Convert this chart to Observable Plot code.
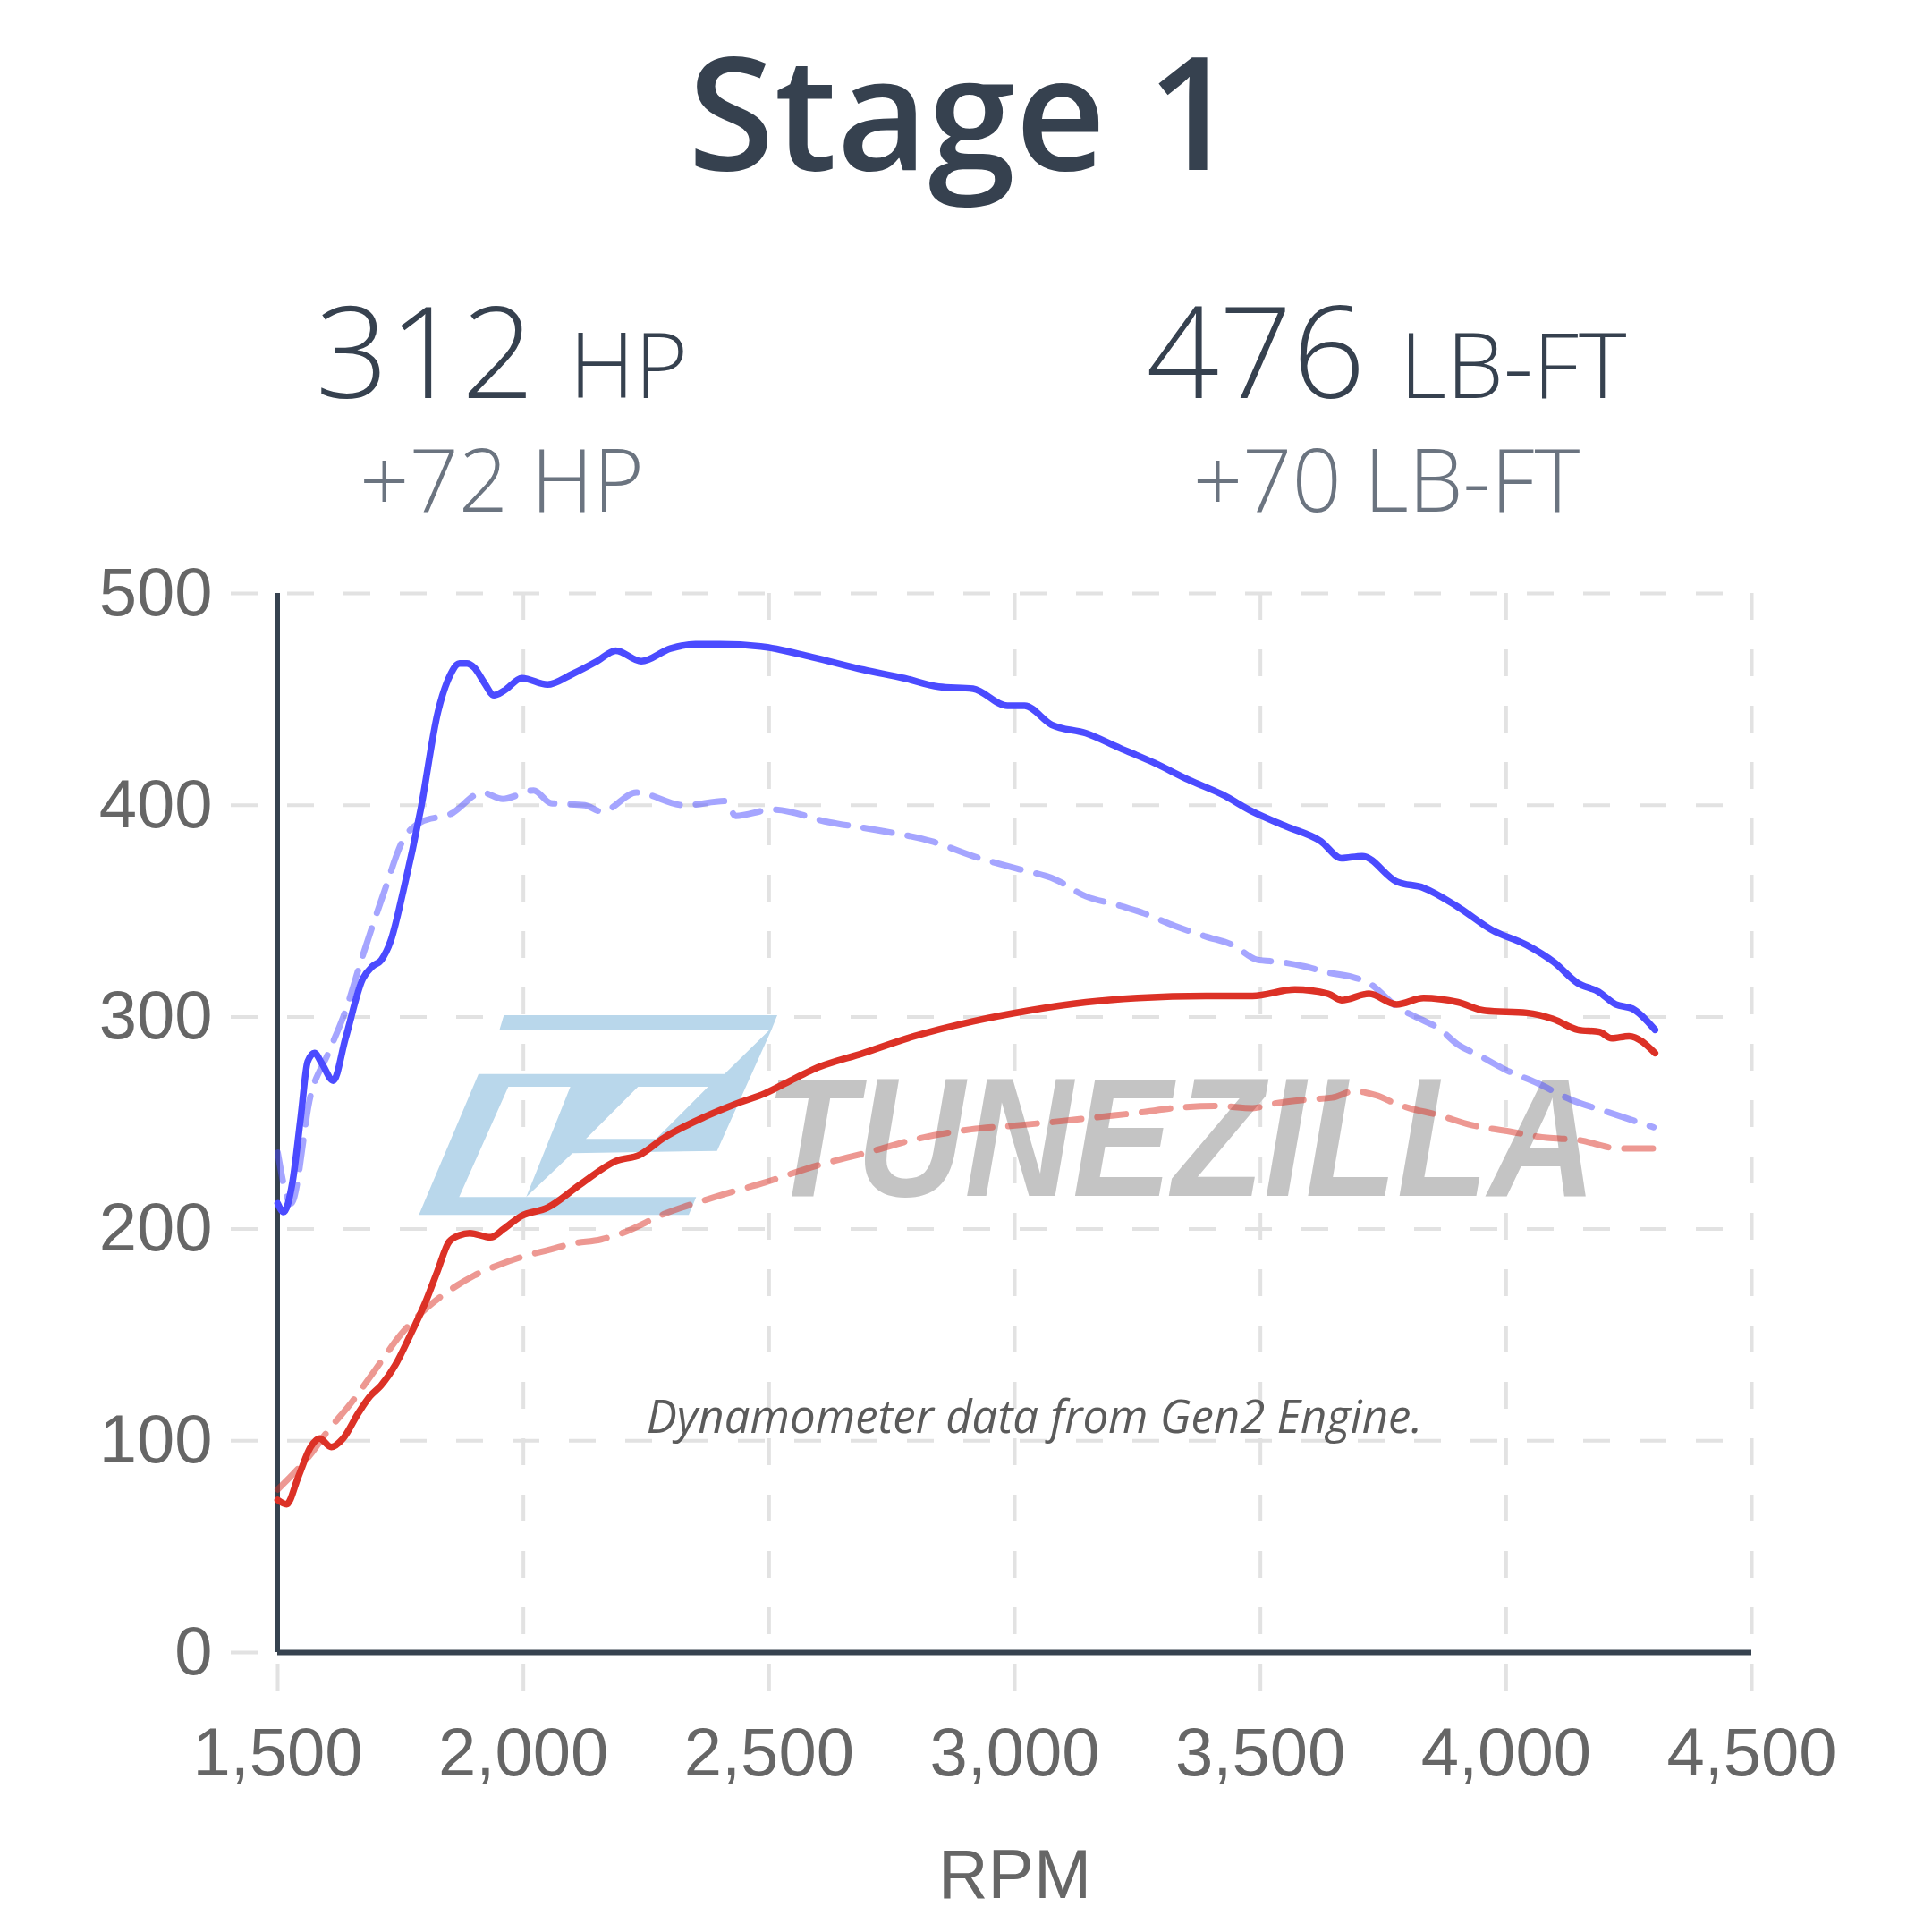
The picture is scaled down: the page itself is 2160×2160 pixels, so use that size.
<!DOCTYPE html>
<html><head><meta charset="utf-8">
<script src="https://cdn.jsdelivr.net/npm/d3@7"></script>
<script src="https://cdn.jsdelivr.net/npm/@observablehq/plot@0.6"></script>
<style>
html,body{margin:0;padding:0;background:#fff;}
#wrap{width:2160px;}
#wrap svg{display:block;}
</style></head><body><div id="wrap"></div>
<script>
// ---- data ----
const title = "Stage 1";
const hpPeak = "312", hpUnit = "HP", hpGain = "+72 HP";
const tqPeak = "476", tqUnit = "LB-FT", tqGain = "+70 LB-FT";
const caption = "Dynamometer data from Gen2 Engine.";
const xLabel = "RPM";
const xTicks = [1500, 2000, 2500, 3000, 3500, 4000, 4500];
const yTicks = [0, 100, 200, 300, 400, 500];

// Stage 1 torque (solid blue)
const stage1TqRpm = [1500,1512,1530,1547,1561,1575,1590,1613,1638,1673,1693,1711,1730,1756,1791,1826,1850,1870,1885,1900,1920,1940,1960,1997,2049,2100,2150,2188,2240,2299,2350,2400,2483,2587,2692,2775,2845,2915,2985,3020,3075,3145,3214,3284,3354,3423,3484,3553,3623,3665,3707,3777,3832,3902,3972,4042,4097,4146,4188,4223,4257,4303];
const stage1Tq    = [212,208,222,253,279,283,278,270,290,318,324,327,336,360,398,444,461,467,467,465,458,452,454,460,457,462,468,473,468,474,476,476,475,470,464,460,456,455,447,447,438,434,427,420,412,405,397,390,383,375,376,364,361,352,341,334,326,316,312,306,304,294];

// Stock torque (dashed blue)
const stockTqRpm = [1500,1527,1567,1603,1638,1673,1715,1756,1791,1853,1916,1958,2021,2056,2125,2160,2230,2328,2411,2432,2508,2622,2727,2831,2915,3006,3082,3145,3208,3263,3326,3389,3444,3494,3540,3588,3638,3686,3721,3777,3826,3861,3902,3944,4000,4062,4132,4209,4300];
const stockTq    = [236,212,263,283,303,329,358,384,392,396,406,403,407,401,400,397,406,400,402,395,398,392,388,383,376,370,365,357,353,349,343,338,334,327,326,324,321,319,316,305,299,295,287,282,275,269,261,255,248];

// Stage 1 horsepower (solid red)
const stage1HpRpm = [1500,1518,1542,1567,1585,1609,1633,1664,1688,1710,1740,1770,1800,1825,1849,1870,1891,1933,1960,1995,2049,2116,2188,2237,2286,2370,2432,2492,2552,2587,2692,2796,2915,3027,3145,3250,3389,3484,3570,3638,3665,3721,3777,3832,3902,3958,4042,4097,4146,4190,4215,4250,4303];
const stage1Hp    = [72,70,83,97,101,97,101,113,121,126,136,150,165,180,194,197,198,196,200,206,210,221,232,235,243,253,259,264,271,275,283,291,298,303,307,309,310,310,313,311,308,311,306,309,307,303,302,299,294,293,290,291,283];

// Stock horsepower (dashed red)
const stockHpRpm = [1500,1530,1565,1600,1650,1700,1750,1800,1850,1900,1950,2000,2050,2100,2158,2201,2286,2389,2492,2599,2699,2811,2911,3011,3100,3179,3257,3323,3412,3484,3524,3591,3646,3691,3736,3777,3803,3858,3930,4007,4083,4146,4229,4300];
const stockHp    = [77,84,93,104,118,134,150,162,171,178,183,187,190,193,195,198,207,215,222,230,236,243,247,249,251,253,255,257,258,257,259,261,262,265,263,259,257,254,249,246,243,242,238,238];

const toRows = (xs, ys) => xs.map((x, i) => ({rpm: x, v: ys[i]}));

// ---- header ----
const ink = "#36414f", sub = "#6b7480";
const header = d3.create("svg").attr("width", 2160).attr("height", 600)
  .attr("font-family", "'Open Sans', sans-serif");
header.append("text").attr("x", 1076).attr("y", 190).attr("text-anchor", "middle")
  .attr("font-size", 176).attr("font-weight", 560).attr("fill", ink).text(title);

function block(cx, big, unit, gain) {
  const t = header.append("text").attr("x", cx).attr("y", 445).attr("text-anchor", "middle")
    .attr("fill", ink).attr("font-weight", 300);
  t.append("tspan").attr("font-size", 143).text(big);
  t.append("tspan").attr("font-size", 102).attr("dx", 12).text(" " + unit);
  header.append("text").attr("x", cx).attr("y", 572).attr("text-anchor", "middle")
    .attr("fill", sub).attr("font-weight", 300).attr("font-size", 97).text(gain);
}
block(561, hpPeak, hpUnit, hpGain);
block(1550, tqPeak, tqUnit, tqGain);

// ---- watermark (decoration) ----
const watermark = (index, scales, values, dims) => {
  const g = d3.create("svg:g")
    .attr("transform", `translate(${dims.marginLeft + 145},${dims.marginTop + 447})`);
  const logo = g.append("g").attr("transform", "scale(0.33333)").attr("fill", "#b9d7eb");
  logo.append("path").attr("d", "M325,75 L1242,75 L1222,125 L310,125 Z");
  logo.append("path").attr("fill-rule", "evenodd").attr("d",
    "M240,272 L1065,272 L1215,125 L1222,125 L1040,530 L555,538 L400,685 L970,685 L945,745 L40,745 Z " +
    "M340,315 L548,315 L400,685 L175,685 Z " +
    "M775,315 L1010,315 L835,490 L600,490 Z");
  g.append("text").attr("x", 400).attr("y", 227)
    .attr("text-anchor", "start")
    .attr("font-family", "'Liberation Sans', Arial, sans-serif")
    .attr("font-weight", "bold").attr("font-style", "italic")
    .attr("font-size", 190).attr("fill", "#c4c4c4")
    .attr("textLength", 930).attr("lengthAdjust", "spacingAndGlyphs")
    .text("TUNEZILLA");
  return g.node();
};

const gridStyle = {stroke: "#e2e2e2", strokeOpacity: 1, strokeWidth: 4, strokeDasharray: "30,33"};
const axisInk = "#36424f";
const blue = "#4b4bff", red = "#dc3126";

const chart = Plot.plot({
  width: 2160,
  height: 1560,
  marginTop: 63,
  marginRight: 202,
  marginBottom: 313,
  marginLeft: 310,
  style: {fontFamily: "'Liberation Sans', Arial, sans-serif", fontSize: "76px", background: "transparent"},
  x: {domain: [1500, 4500]},
  y: {domain: [0, 500]},
  marks: [
    Plot.gridY(yTicks, {...gridStyle, insetLeft: -52}),
    Plot.gridX(xTicks, {...gridStyle, insetBottom: -50}),
    watermark,
    Plot.text([caption], {frameAnchor: "top", dx: 22, dy: 902, lineAnchor: "top",
      fontSize: 51, fontStyle: "italic", fontFamily: "'Open Sans', sans-serif", fill: "#5b5b5b"}),
    Plot.ruleX([1500], {stroke: axisInk, strokeWidth: 5}),
    Plot.ruleY([0], {stroke: axisInk, strokeWidth: 6}),
    Plot.line(toRows(stockTqRpm, stockTq), {x: "rpm", y: "v", stroke: blue, strokeOpacity: 0.5,
      strokeWidth: 7, strokeDasharray: "32,18", curve: "monotone-x"}),
    Plot.line(toRows(stockHpRpm, stockHp), {x: "rpm", y: "v", stroke: red, strokeOpacity: 0.5,
      strokeWidth: 7, strokeDasharray: "32,18", curve: "monotone-x"}),
    Plot.line(toRows(stage1HpRpm, stage1Hp), {x: "rpm", y: "v", stroke: red,
      strokeWidth: 7.5, curve: "monotone-x"}),
    Plot.line(toRows(stage1TqRpm, stage1Tq), {x: "rpm", y: "v", stroke: blue,
      strokeWidth: 7.5, curve: "monotone-x"}),
    Plot.axisY(yTicks, {tickSize: 0, tickPadding: 73, fontSize: 76, color: "#666", label: null}),
    Plot.axisX(xTicks, {tickSize: 0, tickPadding: 84, fontSize: 76, color: "#666", label: null,
      tickFormat: d3.format(",")}),
    Plot.text([xLabel], {frameAnchor: "bottom", dy: 220, lineAnchor: "top", fontSize: 77, fill: "#666"})
  ]
});

const wrap = document.getElementById("wrap");
wrap.appendChild(header.node());
wrap.appendChild(chart);
</script>
</body></html>
